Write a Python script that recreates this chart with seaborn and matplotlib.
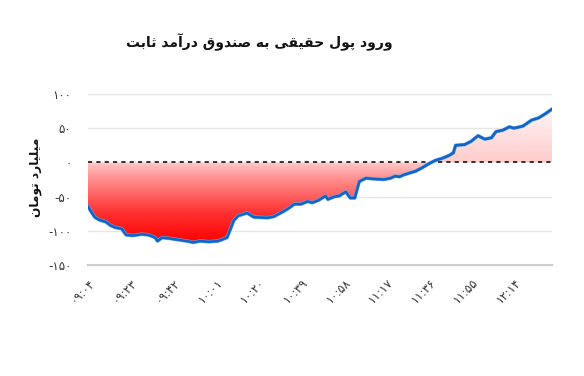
import numpy as np
import pandas as pd
import matplotlib
matplotlib.use("Agg")
import matplotlib.pyplot as plt
from matplotlib.colors import LinearSegmentedColormap
import seaborn as sns

# ---------------- data ----------------
times = ["09:04", "09:05", "09:07", "09:09", "09:12", "09:14", "09:16", "09:19",
         "09:21", "09:24", "09:28", "09:31", "09:34", "09:35", "09:37", "09:40",
         "09:44", "09:48", "09:51", "09:54", "09:58", "10:02", "10:06", "10:07",
         "10:09", "10:11", "10:14", "10:15", "10:18", "10:24", "10:27", "10:31",
         "10:34", "10:36", "10:39", "10:42", "10:44", "10:47", "10:50", "10:51",
         "10:54", "10:56", "10:59", "11:01", "11:03", "11:05", "11:08", "11:11",
         "11:16", "11:19", "11:21", "11:23", "11:25", "11:30", "11:33", "11:36",
         "11:39", "11:42", "11:45", "11:47", "11:48", "11:52", "11:55", "11:58",
         "12:01", "12:04", "12:06", "12:09", "12:12", "12:14", "12:18", "12:22",
         "12:25", "12:28", "12:31"]
values = [-64, -70, -80, -84, -87, -92, -95, -97,
          -106, -107, -105, -106, -110, -115, -110, -111,
          -113, -115, -117, -115, -116, -115, -110, -102,
          -85, -78, -75, -74, -80, -81, -79, -72,
          -66, -61, -61, -57, -59, -55, -49, -54,
          -50, -49, -43, -52, -52, -28, -23, -24,
          -25, -23, -20, -21, -18, -13, -8, -2,
          3, 6, 10, 14, 25, 26, 31, 39,
          34, 36, 45, 47, 52, 50, 53, 62,
          65, 71, 78]
tick_times = ["09:04", "09:23", "09:42", "10:01", "10:20", "10:39",
              "10:58", "11:17", "11:36", "11:55", "12:14"]
y_ticks = [-150, -100, -50, 0, 50, 100]
title_text = "ورود پول حقیقی به صندوق درآمد ثابت"
ylabel_text = "میلیارد تومان"

# ---------------- helpers ----------------
FORMS = {  # isolated, final, initial, medial
    "\u0627": ("\uFE8D", "\uFE8E", None, None),
    "\u0622": ("\uFE81", "\uFE82", None, None),
    "\u062F": ("\uFEA9", "\uFEAA", None, None),
    "\u0631": ("\uFEAD", "\uFEAE", None, None),
    "\u0648": ("\uFEED", "\uFEEE", None, None),
    "\u0628": ("\uFE8F", "\uFE90", "\uFE91", "\uFE92"),
    "\u062A": ("\uFE95", "\uFE96", "\uFE97", "\uFE98"),
    "\u062B": ("\uFE99", "\uFE9A", "\uFE9B", "\uFE9C"),
    "\u062D": ("\uFEA1", "\uFEA2", "\uFEA3", "\uFEA4"),
    "\u0635": ("\uFEB9", "\uFEBA", "\uFEBB", "\uFEBC"),
    "\u0642": ("\uFED5", "\uFED6", "\uFED7", "\uFED8"),
    "\u0644": ("\uFEDD", "\uFEDE", "\uFEDF", "\uFEE0"),
    "\u0645": ("\uFEE1", "\uFEE2", "\uFEE3", "\uFEE4"),
    "\u0646": ("\uFEE5", "\uFEE6", "\uFEE7", "\uFEE8"),
    "\u0647": ("\uFEE9", "\uFEEA", "\uFEEB", "\uFEEC"),
    "\u067E": ("\uFB56", "\uFB57", "\uFB58", "\uFB59"),
    "\u06CC": ("\uFBFC", "\uFBFD", "\uFBFE", "\uFBFF"),
}


def shape(text):
    out = []
    n = len(text)
    for i, ch in enumerate(text):
        if ch not in FORMS:
            out.append(ch)
            continue
        f = FORMS[ch]
        prev = text[i - 1] if i > 0 else ""
        nxt = text[i + 1] if i < n - 1 else ""
        cp = prev in FORMS and FORMS[prev][2] is not None
        cn = f[2] is not None and nxt in FORMS
        if cp and cn:
            out.append(f[3])
        elif cp:
            out.append(f[1])
        elif cn:
            out.append(f[2])
        else:
            out.append(f[0])
    return "".join(out[::-1])


FA = str.maketrans("0123456789", "۰۱۲۳۴۵۶۷۸۹")


def fa(s):
    return str(s).translate(FA)


def to_min(t):
    h, m = t.split(":")
    return int(h) * 60 + int(m)


t0 = to_min(times[0])
df = pd.DataFrame({"minute": [to_min(t) - t0 for t in times], "value": values})
tick_pos = [to_min(t) - t0 for t in tick_times]

# ---------------- plot ----------------
sns.set_style("white")
plt.rcParams["font.family"] = ["DejaVu Sans"]

fig = plt.figure(figsize=(5.84, 3.76), dpi=100)
ax = fig.add_axes([88 / 584, 1 - 265 / 376, (552 - 88) / 584, (265 - 94) / 376])

x_end = df["minute"].iloc[-1]
ax.set_xlim(0, x_end)
ax.set_ylim(-150, 100)

# gradient area
poly = ax.fill_between(df["minute"], df["value"], 0, facecolor="none",
                       edgecolor="none", zorder=1)
cmap = LinearSegmentedColormap.from_list(
    "g", [(0.0, "#ff0000"), (0.22, "#ff3030"), (0.5, "#ff9a9a"),
          (0.6, "#ffcccc"), (1.0, "#fff6f6")])
grad = np.linspace(0, 1, 256).reshape(-1, 1)
im = ax.imshow(grad, extent=[0, x_end, -118, 80], origin="lower",
               aspect="auto", cmap=cmap, zorder=1)
im.set_clip_path(poly.get_paths()[0], transform=ax.transData)

# grid
for yv in [-100, -50, 50, 100]:
    ax.axhline(yv, color="#e6e6e6", lw=1.0, zorder=0)
ax.axhline(0, color="#111111", lw=1.2, ls=(0, (2.5, 2.5)), zorder=3)

sns.lineplot(data=df, x="minute", y="value", ax=ax, color="#6aa6e8",
             lw=2.6, zorder=4, legend=False)
sns.lineplot(data=df, x="minute", y="value", ax=ax, color="#1064c8",
             lw=1.8, zorder=5, legend=False)

for s in ["top", "right", "left"]:
    ax.spines[s].set_visible(False)
ax.spines["bottom"].set_color("#cccccc")
ax.spines["bottom"].set_linewidth(1.5)

ax.set_xticks(tick_pos)
ax.set_xticklabels([fa(t) for t in tick_times], rotation=45, ha="right",
                   va="top", rotation_mode="anchor", fontsize=8.5,
                   color="#333333")
ax.tick_params(axis="x", length=5, width=1, color="#cccccc", pad=3)
ax.set_yticks(y_ticks)
ax.set_yticklabels([("-" + fa(abs(v))) if v < 0 else fa(v) for v in y_ticks],
                   fontsize=8.5, color="#333333")
ax.tick_params(axis="y", length=0, pad=12)
ax.set_xlabel("")
ax.set_ylabel("")

fig.text(259 / 584, 1 - 42 / 376, shape(title_text), ha="center", va="center",
         fontsize=10, fontweight="bold", color="#111111")
fig.text(35 / 584, 1 - 177 / 376, shape(ylabel_text), ha="center",
         va="center", rotation=90, fontsize=8.8, fontweight="bold",
         color="#111111")

fig.savefig("out.png", dpi=100)
